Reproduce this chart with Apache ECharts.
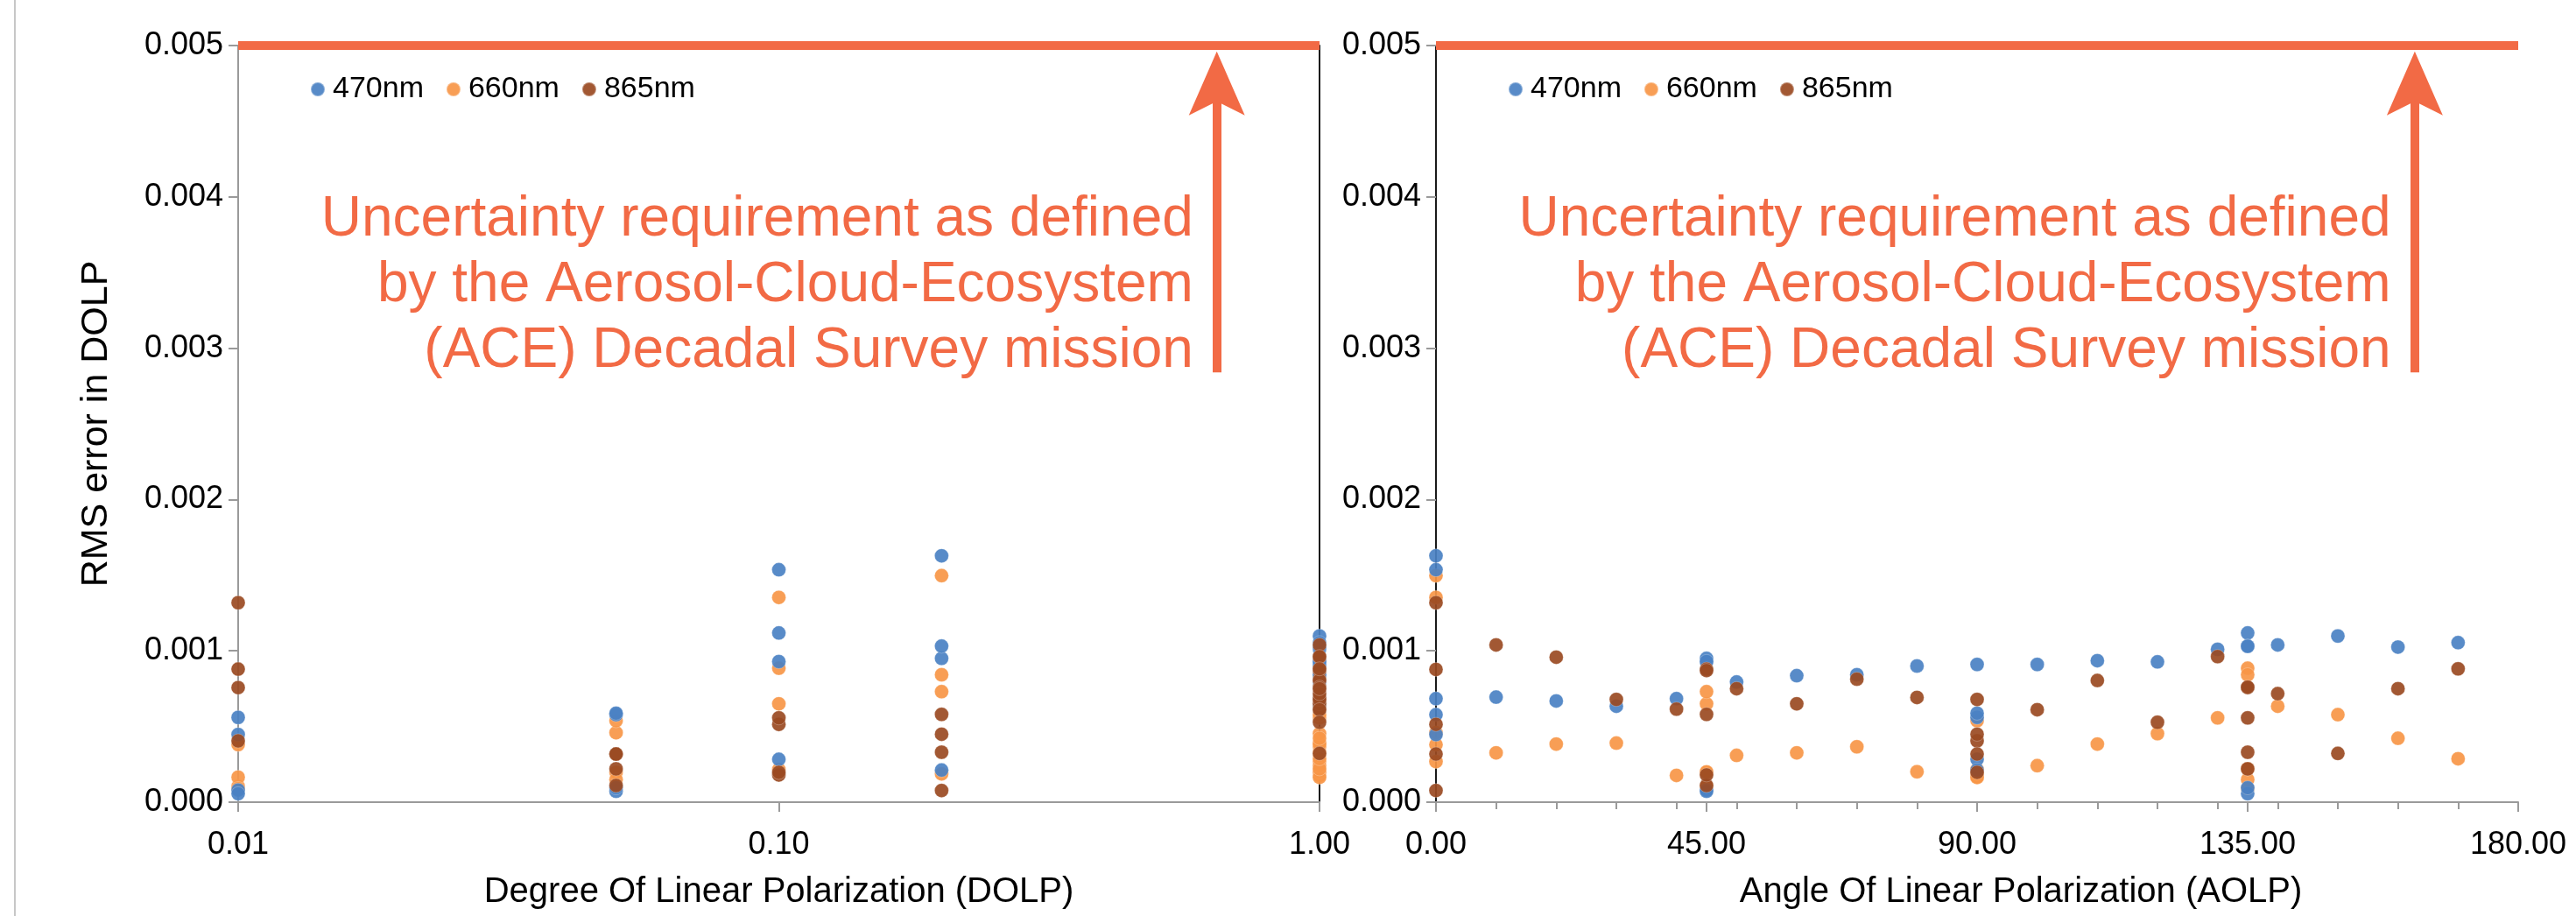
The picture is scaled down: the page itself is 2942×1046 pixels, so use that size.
<!DOCTYPE html>
<html>
<head>
<meta charset="utf-8">
<title>RMS error in DOLP vs DOLP / AOLP</title>
<script src="https://cdn.jsdelivr.net/npm/echarts@6/dist/echarts.min.js"></script>
<style>
  html, body { margin: 0; padding: 0; background: #fff; }
  #chart { width: 2942px; height: 1046px; }
</style>
</head>
<body>
<div id="chart"></div>
<script>
// wavelengths (legend order)
const wavelengths = ['470nm', '660nm', '865nm'];

// low DOLP runs: each row is one DOLP, columns are AOLP 0 / 45 / 90 / 135
const dolpLow = [0.01, 0.05, 0.1, 0.2];
const aolpLow = [0, 45, 90, 135];
const rms470Low = [
  [0.000447, 0.000080, 0.000560, 0.000056],
  [0.000578, 0.000072, 0.000588, 0.000095],
  [0.001536, 0.000929, 0.000283, 0.001118],
  [0.001628, 0.000950, 0.000212, 0.001031]
];
const rms660Low = [
  [0.000380, 0.000104, 0.000165, 0.000090],
  [0.000459, 0.000197, 0.000538, 0.000149],
  [0.001353, 0.000650, 0.000216, 0.000885],
  [0.001497, 0.000730, 0.000187, 0.000842]
];
const rms865Low = [
  [0.001318, 0.000879, 0.000405, 0.000757],
  [0.000318, 0.000110, 0.000318, 0.000220],
  [0.000514, 0.000180, 0.000197, 0.000557],
  [0.000077, 0.000580, 0.000449, 0.000330]
];

// fully polarized runs (DOLP = 1.00) over all AOLP values
const dolpFull = 1.0;
const aolpFull = [0, 10, 20, 30, 40, 45, 50, 60, 70, 80, 90, 100, 110, 120, 130, 135, 140, 150, 160, 170];
const rms470Full = [0.000684, 0.000694, 0.000669, 0.000634, 0.000684, 0.000930, 0.000794, 0.000836, 0.000842, 0.000900,
                    0.000910, 0.000910, 0.000935, 0.000927, 0.001010, 0.001030, 0.001039, 0.001098, 0.001025, 0.001054];
const rms660Full = [0.000268, 0.000326, 0.000384, 0.000390, 0.000177, 0.000200, 0.000309, 0.000326, 0.000366, 0.000201,
                    0.000164, 0.000241, 0.000384, 0.000453, 0.000557, 0.000220, 0.000634, 0.000578, 0.000422, 0.000287];
const rms865Full = [0.000877, 0.001039, 0.000958, 0.000679, 0.000615, 0.000870, 0.000750, 0.000650, 0.000813, 0.000692,
                    0.000679, 0.000611, 0.000804, 0.000528, 0.000962, 0.000760, 0.000717, 0.000322, 0.000750, 0.000881];

// axis ranges and ticks
const dolpRange = [0.01, 1];
const aolpRange = [0, 180];
const aolpMajor = [0, 45, 90, 135, 180];

// ACE requirement annotation
const reqLevel = 0.005;
const reqNote = 'Uncertainty requirement as defined\nby the Aerosol-Cloud-Ecosystem\n(ACE) Decadal Survey mission';
const arrowLow = 0.00284, arrowHigh = 0.00475;
const arrowAt = [0.6457, 162.8];          // DOLP panel, AOLP panel
const noteAt = [[0.5853, 0.00341], [158.9, 0.00341]];

const FONT = "'Liberation Sans', Arial, Helvetica, sans-serif";
const RED = '#f26a45';
const GREY = '#9a9a9a';
const colors = { '470nm': '#4a81c3', '660nm': '#f79647', '865nm': '#9a4a22' };
const arrowHead = 'path://M0,0 L32,73 L0,57 L-32,73 Z';

function points(low, full, byAolp) {
  const pts = [];
  dolpLow.forEach((d, i) => aolpLow.forEach((a, j) => pts.push([byAolp ? a : d, low[i][j]])));
  aolpFull.forEach((a, k) => pts.push([byAolp ? a : dolpFull, full[k]]));
  return pts;
}

// orange drawn first, then blue, brown on top
const drawOrder = [
  ['660nm', rms660Low, rms660Full],
  ['470nm', rms470Low, rms470Full],
  ['865nm', rms865Low, rms865Full]
];

const series = [];
[0, 1].forEach(panel => {
  const xi = panel === 0 ? 0 : 1;
  const yi = panel === 0 ? 0 : 2;
  const range = panel === 0 ? dolpRange : aolpRange;

  // requirement line across the top of the panel
  series.push({
    name: 'requirement',
    type: 'line',
    xAxisIndex: xi, yAxisIndex: yi,
    silent: true, clip: false, symbol: 'none', z: 3,
    lineStyle: { color: RED, width: 10 },
    data: [[range[0], reqLevel], [range[1], reqLevel]]
  });

  drawOrder.forEach(([name, low, full]) => {
    const s = {
      name: name,
      type: 'scatter',
      xAxisIndex: xi, yAxisIndex: yi,
      symbolSize: 16,
      clip: false,
      itemStyle: { color: colors[name], opacity: 0.92, borderColor: 'rgba(255,255,255,0.35)', borderWidth: 0.8 },
      emphasis: { disabled: true },
      data: points(low, full, panel === 1)
    };
    if (name === '865nm') {
      s.markLine = {
        silent: true,
        animation: false,
        symbol: ['none', 'none'],
        label: { show: false },
        lineStyle: { color: RED, width: 10, type: 'solid', opacity: 1 },
        emphasis: { disabled: true },
        data: [[
          { coord: [arrowAt[panel], arrowLow], symbol: 'none' },
          { coord: [arrowAt[panel], arrowHigh], symbol: arrowHead, symbolSize: [64, 73] }
        ]]
      };
      s.markPoint = {
        silent: true,
        animation: false,
        symbol: 'rect',
        symbolSize: 1,
        itemStyle: { color: 'rgba(0,0,0,0)' },
        label: {
          show: true, position: 'left', distance: 0,
          formatter: reqNote, color: RED, fontSize: 64, lineHeight: 75,
          fontFamily: FONT, align: 'right'
        },
        data: [{ coord: noteAt[panel] }]
      };
    }
    series.push(s);
  });
});

const yBase = gridIndex => ({
  type: 'value', gridIndex: gridIndex, min: 0, max: 0.005, interval: 0.001,
  axisLine: { show: true, lineStyle: { color: GREY, width: 2 } },
  axisTick: { show: true, length: 11, lineStyle: { color: GREY, width: 2 } },
  axisLabel: { fontSize: 36, color: '#000', margin: 17, formatter: v => v.toFixed(3) },
  splitLine: { show: false }
});
const yBorder = gridIndex => ({
  type: 'value', gridIndex: gridIndex, min: 0, max: 0.005, position: 'right',
  axisLine: { show: true, lineStyle: { color: '#1a1a1a', width: 2 } },
  axisTick: { show: false }, axisLabel: { show: false }, splitLine: { show: false }
});

const legendBase = left => ({
  data: wavelengths, left: left, top: 80, icon: 'circle',
  itemWidth: 24, itemHeight: 16, itemGap: 25,
  textStyle: { fontSize: 34, color: '#000', fontFamily: FONT }
});

const chart = echarts.init(document.getElementById('chart'));
chart.setOption({
  animation: false,
  backgroundColor: '#fff',
  textStyle: { fontFamily: FONT },
  grid: [
    { left: 272, top: 52, width: 1235, height: 864 },
    { left: 1640, top: 52, width: 1236, height: 864 }
  ],
  legend: [legendBase(349), legendBase(1717)],
  xAxis: [
    {
      type: 'log', logBase: 10, gridIndex: 0, min: dolpRange[0], max: dolpRange[1],
      name: 'Degree Of Linear Polarization (DOLP)', nameLocation: 'middle', nameGap: 83,
      nameTextStyle: { fontSize: 40, color: '#000' },
      axisLine: { show: true, lineStyle: { color: GREY, width: 2 } },
      axisTick: { show: true, length: 11, lineStyle: { color: GREY, width: 2 } },
      axisLabel: { fontSize: 36, color: '#000', margin: 31, formatter: v => v.toFixed(2) },
      splitLine: { show: false }, minorTick: { show: false }
    },
    {
      type: 'value', gridIndex: 1, min: aolpRange[0], max: aolpRange[1], interval: 45,
      name: 'Angle Of Linear Polarization (AOLP)', nameLocation: 'middle', nameGap: 83,
      nameTextStyle: { fontSize: 40, color: '#000', padding: [0, 0, 0, 100] },
      axisLine: { show: true, lineStyle: { color: GREY, width: 2 } },
      axisTick: { show: true, length: 11, customValues: aolpMajor, lineStyle: { color: GREY, width: 2 } },
      axisLabel: { fontSize: 36, color: '#000', margin: 31, customValues: aolpMajor, formatter: v => v.toFixed(2) },
      splitLine: { show: false }
    },
    {
      type: 'value', gridIndex: 1, min: aolpRange[0], max: aolpRange[1], position: 'bottom',
      axisLine: { show: false },
      axisTick: { show: true, length: 8, customValues: aolpFull, lineStyle: { color: GREY, width: 2 } },
      axisLabel: { show: false },
      splitLine: { show: false }
    }
  ],
  yAxis: [
    Object.assign(yBase(0), {
      name: 'RMS error in DOLP', nameLocation: 'middle', nameGap: 140, nameRotate: 90,
      nameTextStyle: { fontSize: 43, color: '#000' }
    }),
    yBorder(0),
    yBase(1),
    yBorder(1)
  ],
  graphic: [
    { type: 'line', silent: true, shape: { x1: 17, y1: 0, x2: 17, y2: 1046 }, style: { stroke: '#b4b4b4', lineWidth: 1.5 } }
  ],
  series: series
});
</script>
</body>
</html>
